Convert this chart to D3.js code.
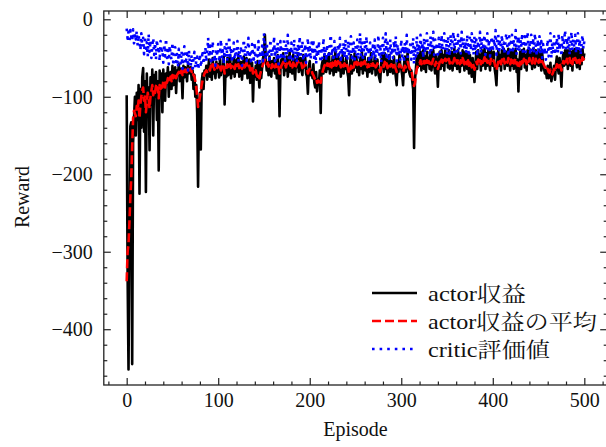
<!DOCTYPE html>
<html><head><meta charset="utf-8">
<script src="https://cdn.jsdelivr.net/npm/d3@7"></script>
<style>
html,body{margin:0;padding:0;background:#fff;}
svg{display:block;}
text{font-family:"Liberation Serif","Noto Serif CJK JP","Noto Sans CJK JP",serif;fill:#111;}
</style></head>
<body>
<svg id="chart" width="606" height="447"></svg>
<script>
const xTicks = [0, 100, 200, 300, 400, 500];
const xTickLabels = ["0", "100", "200", "300", "400", "500"];
const yTicks = [0, -100, -200, -300, -400];
const yTickLabels = ["0", "\u2212100", "\u2212200", "\u2212300", "\u2212400"];
const xLabel = "Episode";
const yLabel = "Reward";
const seriesNames = ["actor収益", "actor収益の平均", "critic評価値"];

const actorReward = [
-98,-330,-452,-280,-138,-133,-445,-160,-128,-100,
-150,-95,-130,-85,-225,-90,-140,-75,-63,-145,
-80,-223,-70,-120,-88,-169,-75,-110,-65,-150,
-72,-100,-68,-130,-80,-195,-66,-95,-70,-120,
-65,-88,-105,-70,-80,-62,-100,-75,-68,-90,
-60,-85,-70,-62,-95,-66,-72,-58,-80,-64,
-70,-102,-60,-75,-62,-68,-80,-58,-70,-65,
-62,-78,-66,-90,-72,-100,-85,-120,-216,-110,
-95,-168,-80,-70,-90,-66,-72,-60,-78,-64,
-52,-74,-60,-78,-50,-70,-64,-76,-55,-68,
-58,-75,-50,-72,-62,-68,-48,-110,-66,-74,
-50,-72,-60,-46,-76,-58,-70,-50,-74,-62,
-52,-68,-46,-74,-60,-55,-78,-62,-48,-70,
-58,-50,-76,-64,-52,-82,-68,-56,-106,-66,
-74,-60,-78,-54,-70,-88,-58,-76,-62,-50,
-44,-20,-52,-66,-56,-72,-48,-64,-74,-54,
-66,-50,-70,-56,-76,-46,-68,-125,-64,-52,
-62,-44,-72,-56,-66,-48,-74,-60,-42,-68,
-56,-70,-46,-64,-78,-52,-62,-44,-68,-58,
-50,-66,-72,-46,-62,-48,-70,-74,-96,-60,
-54,-72,-66,-76,-58,-82,-88,-68,-93,-78,
-84,-66,-121,-60,-54,-70,-46,-62,-68,-48,
-64,-44,-70,-56,-66,-48,-72,-58,-42,-68,
-56,-46,-66,-52,-74,-60,-46,-70,-56,-64,
-48,-68,-74,-98,-58,-46,-70,-56,-66,-44,
-62,-48,-68,-56,-72,-50,-64,-42,-70,-56,
-48,-66,-56,-74,-50,-68,-60,-44,-70,-56,
-64,-48,-72,-58,-52,-70,-76,-81,-58,-46,
-56,-68,-44,-64,-52,-72,-58,-46,-68,-54,
-62,-70,-48,-64,-74,-85,-56,-68,-46,-60,
-64,-72,-85,-58,-48,-68,-56,-42,-64,-70,
-74,-66,-80,-90,-166,-78,-64,-48,-62,-46,
-60,-42,-66,-52,-40,-64,-48,-68,-42,-58,
-50,-64,-40,-66,-52,-40,-60,-70,-46,-62,
-87,-52,-42,-64,-40,-60,-46,-66,-40,-56,
-44,-62,-40,-64,-50,-42,-66,-52,-38,-60,
-46,-64,-40,-56,-68,-44,-60,-40,-50,-66,
-42,-58,-64,-44,-70,-46,-60,-74,-50,-66,
-81,-58,-42,-64,-40,-56,-46,-66,-40,-60,
-48,-38,-64,-44,-60,-40,-56,-66,-40,-52,
-60,-42,-64,-72,-85,-52,-40,-60,-46,-66,
-40,-56,-38,-64,-48,-42,-60,-38,-52,-66,
-42,-60,-40,-64,-48,-38,-68,-52,-93,-56,
-42,-64,-40,-56,-38,-62,-46,-66,-40,-56,
-38,-58,-44,-64,-38,-50,-62,-40,-58,-44,
-60,-40,-50,-66,-44,-58,-64,-70,-66,-76,
-60,-76,-70,-56,-80,-72,-66,-60,-78,-58,
-48,-62,-70,-50,-66,-87,-56,-44,-60,-40,
-58,-40,-64,-46,-38,-60,-42,-66,-40,-56,
-38,-54,-62,-38,-48,-64,-40,-58,-38,-52,
-44];

const actorMean = [
-338,-300,-290,-262,-230,-205,-165,-128,-118,-122,
-125,-112,-118,-105,-128,-110,-100,-92,-88,-105,
-98,-120,-108,-95,-102,-115,-100,-92,-85,-98,
-90,-95,-86,-92,-88,-102,-85,-90,-82,-88,
-80,-84,-88,-78,-82,-76,-82,-78,-74,-80,
-72,-76,-74,-70,-76,-72,-70,-68,-72,-68,
-66,-72,-66,-68,-65,-66,-70,-64,-66,-65,
-64,-68,-66,-72,-74,-80,-88,-98,-113,-108,
-100,-92,-84,-78,-74,-70,-68,-66,-68,-65,
-63,-66,-60,-64,-58,-62,-65,-61,-58,-63,
-60,-65,-62,-66,-59,-63,-61,-70,-66,-62,
-58,-62,-64,-58,-63,-60,-57,-61,-64,-59,
-56,-60,-58,-63,-61,-57,-64,-60,-57,-62,
-59,-56,-62,-64,-60,-66,-63,-60,-70,-68,
-70,-66,-72,-74,-70,-76,-70,-66,-62,-58,
-55,-52,-54,-58,-56,-61,-57,-60,-63,-58,
-61,-57,-62,-58,-63,-59,-62,-70,-66,-60,
-58,-55,-60,-58,-62,-57,-61,-58,-55,-60,
-57,-62,-56,-60,-64,-60,-57,-54,-58,-56,
-55,-58,-63,-57,-61,-56,-62,-64,-70,-66,
-64,-67,-66,-70,-72,-75,-78,-76,-82,-79,
-81,-76,-82,-74,-68,-64,-60,-58,-62,-57,
-60,-55,-61,-57,-62,-56,-60,-58,-54,-60,
-57,-54,-60,-56,-62,-60,-55,-61,-57,-60,
-56,-60,-64,-70,-66,-60,-63,-58,-62,-56,
-60,-55,-59,-56,-62,-57,-60,-53,-58,-56,
-54,-58,-56,-62,-58,-61,-59,-55,-60,-57,
-60,-56,-62,-60,-57,-62,-65,-68,-63,-58,
-57,-61,-55,-60,-57,-63,-60,-56,-61,-58,
-59,-62,-57,-61,-64,-68,-63,-62,-58,-60,
-61,-64,-68,-64,-60,-62,-58,-55,-59,-63,
-65,-64,-72,-80,-86,-82,-72,-64,-60,-56,
-57,-53,-58,-55,-52,-57,-54,-58,-53,-56,
-54,-57,-52,-58,-55,-51,-56,-60,-55,-58,
-64,-60,-55,-58,-52,-56,-53,-57,-51,-54,
-52,-56,-51,-57,-54,-52,-57,-55,-50,-56,
-53,-57,-51,-54,-58,-53,-56,-50,-53,-58,
-52,-55,-58,-53,-60,-56,-58,-62,-57,-60,
-65,-60,-55,-58,-52,-56,-53,-58,-51,-56,
-53,-49,-56,-52,-56,-51,-55,-58,-51,-54,
-56,-53,-57,-62,-66,-60,-55,-58,-54,-58,
-52,-55,-51,-57,-53,-51,-56,-50,-54,-58,
-52,-56,-51,-57,-54,-50,-58,-56,-64,-60,
-55,-58,-52,-56,-51,-57,-53,-58,-51,-55,
-50,-55,-52,-57,-50,-53,-57,-51,-55,-52,
-56,-52,-54,-58,-54,-57,-59,-62,-63,-67,
-64,-68,-69,-65,-70,-71,-68,-64,-68,-63,
-58,-60,-62,-57,-61,-66,-60,-54,-57,-52,
-56,-51,-57,-53,-50,-56,-52,-58,-51,-55,
-50,-53,-56,-49,-52,-57,-51,-55,-49,-52,
-50];

const criticValue = [
-12,-25,-16,-30,-14,-22,-28,-13,-31,-18,
-26,-15,-34,-20,-29,-40,-18,-36,-24,-45,
-22,-38,-30,-48,-19,-42,-27,-50,-33,-24,
-46,-30,-52,-26,-40,-35,-54,-28,-44,-38,
-56,-32,-48,-25,-50,-40,-58,-34,-46,-52,
-30,-60,-42,-36,-55,-45,-62,-38,-50,-57,
-41,-64,-47,-35,-58,-52,-44,-66,-40,-55,
-60,-46,-68,-50,-42,-63,-54,-48,-65,-58,
-45,-62,-52,-40,-58,-48,-36,-55,-44,-24,
-50,-34,-58,-42,-28,-52,-46,-60,-38,-48,
-32,-55,-44,-26,-50,-40,-58,-36,-47,-30,
-54,-42,-22,-48,-36,-56,-44,-30,-52,-40,
-46,-28,-55,-38,-50,-34,-60,-42,-26,-48,
-36,-54,-44,-24,-50,-40,-58,-32,-46,-52,
-30,-56,-42,-48,-28,-60,-40,-50,-34,-54,
-18,-36,-52,-30,-46,-40,-56,-26,-48,-38,
-44,-22,-54,-36,-50,-30,-58,-42,-28,-52,
-38,-48,-24,-56,-34,-46,-20,-50,-40,-54,
-30,-44,-52,-26,-48,-36,-56,-32,-46,-22,
-50,-38,-28,-54,-42,-32,-56,-40,-24,-48,
-36,-52,-30,-46,-26,-54,-40,-58,-34,-48,
-28,-44,-56,-36,-50,-24,-46,-38,-54,-32,
-42,-50,-30,-20,-48,-36,-54,-28,-44,-40,
-52,-32,-46,-24,-56,-38,-44,-30,-50,-26,
-40,-54,-28,-48,-36,-22,-50,-42,-30,-56,
-34,-46,-26,-52,-38,-18,-48,-30,-54,-40,
-28,-50,-22,-44,-36,-56,-30,-46,-52,-34,
-48,-26,-54,-36,-42,-20,-50,-32,-56,-38,
-24,-46,-34,-18,-52,-30,-44,-54,-26,-48,
-36,-50,-28,-42,-22,-54,-32,-46,-38,-52,
-26,-48,-34,-56,-30,-44,-20,-50,-36,-46,
-28,-52,-40,-24,-58,-34,-48,-22,-46,-32,
-42,-20,-38,-30,-50,-24,-44,-34,-18,-40,
-28,-48,-22,-42,-32,-16,-46,-26,-40,-30,
-50,-24,-36,-44,-20,-40,-30,-18,-38,-26,
-46,-22,-34,-48,-20,-38,-28,-16,-44,-24,
-32,-46,-20,-38,-26,-44,-16,-34,-24,-40,
-28,-44,-20,-36,-48,-24,-40,-18,-32,-46,
-22,-38,-26,-48,-28,-34,-16,-44,-24,-40,
-30,-20,-46,-34,-18,-40,-26,-48,-30,-22,
-42,-24,-36,-14,-46,-28,-20,-40,-26,-38,
-20,-42,-30,-46,-24,-18,-36,-48,-22,-40,
-28,-20,-44,-26,-38,-14,-46,-30,-22,-42,
-24,-36,-18,-46,-28,-22,-42,-26,-16,-38,
-30,-46,-20,-40,-24,-44,-18,-34,-48,-26,
-40,-22,-44,-28,-50,-32,-46,-36,-52,-40,
-26,-48,-36,-18,-50,-30,-44,-22,-46,-34,
-24,-44,-18,-40,-30,-48,-20,-38,-28,-14,
-42,-24,-38,-20,-46,-30,-16,-40,-26,-36,
-20,-44,-30,-18,-40,-26,-46,-32,-20,-38,
-28];

const svg = d3.select("#chart");
const mLeft = 103.8, mRight = 607.2, mTop = 11, mBottom = 385;
const x = d3.scaleLinear().domain([-25, 525]).range([mLeft, mRight]);
const y = d3.scaleLinear().domain([-472, 10.7]).range([mBottom, mTop]);
const FS = 20;

svg.append("defs").append("clipPath").attr("id", "clip")
  .append("rect").attr("x", mLeft).attr("y", mTop).attr("width", mRight - mLeft).attr("height", mBottom - mTop);

const line = d3.line().x((d, i) => x(i)).y(d => y(d));
const plot = svg.append("g").attr("clip-path", "url(#clip)");

plot.append("path").datum(actorReward).attr("d", line)
  .attr("fill", "none").attr("stroke", "#000").attr("stroke-width", 2.6)
  .attr("stroke-linejoin", "round");
plot.append("path").datum(actorMean).attr("d", line)
  .attr("fill", "none").attr("stroke", "#ff0000").attr("stroke-width", 2.6)
  .attr("stroke-dasharray", "9,4").attr("stroke-linejoin", "round");
plot.append("path").datum(criticValue).attr("d", line)
  .attr("fill", "none").attr("stroke", "#0000ff").attr("stroke-width", 2.6)
  .attr("stroke-dasharray", "2.6,5").attr("stroke-linejoin", "round");

// axes
const xMinor = d3.range(-20, 521, 20).filter(v => v % 100 !== 0);
const yMinor = d3.range(-460, 1, 20).filter(v => v % 100 !== 0);
const axisColor = "#222";

function styleAxis(g) {
  g.select(".domain").remove();
  g.selectAll("line").attr("stroke", axisColor).attr("stroke-width", 1.2);
  g.selectAll("text").attr("font-size", FS).attr("fill", "#111")
    .attr("font-family", '"Liberation Serif", serif');
}

const xLabels = {}; xTicks.forEach((t, i) => xLabels[t] = xTickLabels[i]);
const yLabels = {}; yTicks.forEach((t, i) => yLabels[t] = yTickLabels[i]);

svg.append("g").attr("transform", `translate(0,${mBottom})`)
  .call(d3.axisBottom(x).tickValues(xTicks).tickSize(-7).tickPadding(8).tickFormat(d => xLabels[d]))
  .call(styleAxis);
svg.append("g").attr("transform", `translate(0,${mBottom})`)
  .call(d3.axisBottom(x).tickValues(xMinor).tickSize(-3.5).tickFormat(""))
  .call(styleAxis);
svg.append("g").attr("transform", `translate(0,${mTop})`)
  .call(d3.axisTop(x).tickValues(xTicks).tickSize(-7).tickFormat(""))
  .call(styleAxis);
svg.append("g").attr("transform", `translate(0,${mTop})`)
  .call(d3.axisTop(x).tickValues(xMinor).tickSize(-3.5).tickFormat(""))
  .call(styleAxis);
svg.append("g").attr("transform", `translate(${mLeft},0)`)
  .call(d3.axisLeft(y).tickValues(yTicks).tickSize(-7).tickPadding(11).tickFormat(d => yLabels[d]))
  .call(styleAxis);
svg.append("g").attr("transform", `translate(${mLeft},0)`)
  .call(d3.axisLeft(y).tickValues(yMinor).tickSize(-3.5).tickFormat(""))
  .call(styleAxis);
svg.append("g").attr("transform", `translate(${mRight},0)`)
  .call(d3.axisRight(y).tickValues(yTicks).tickSize(-7).tickFormat(""))
  .call(styleAxis);
svg.append("g").attr("transform", `translate(${mRight},0)`)
  .call(d3.axisRight(y).tickValues(yMinor).tickSize(-3.5).tickFormat(""))
  .call(styleAxis);

svg.append("rect").attr("x", mLeft).attr("y", mTop).attr("width", mRight - mLeft).attr("height", mBottom - mTop)
  .attr("fill", "none").attr("stroke", axisColor).attr("stroke-width", 1.3);

svg.append("text").attr("x", (x(0) + x(500)) / 2).attr("y", 436)
  .attr("text-anchor", "middle").attr("font-size", FS).text(xLabel);
svg.append("text").attr("transform", "translate(29,197) rotate(-90)")
  .attr("text-anchor", "middle").attr("font-size", FS).text(yLabel);

// legend
const legendStyles = [
  {color: "#000", dash: null, width: 98},
  {color: "#ff0000", dash: "9,4", width: 169},
  {color: "#0000ff", dash: "2.6,5", width: 122}
];
const lg = svg.append("g");
seriesNames.forEach((name, i) => {
  const cy = 293 + i * 28;
  const l = lg.append("line").attr("x1", 372).attr("x2", 417).attr("y1", cy).attr("y2", cy)
    .attr("stroke", legendStyles[i].color).attr("stroke-width", 2.6);
  if (legendStyles[i].dash) l.attr("stroke-dasharray", legendStyles[i].dash);
  lg.append("text").attr("x", 428).attr("y", cy).attr("dy", "0.36em")
    .attr("font-size", 21).attr("textLength", legendStyles[i].width)
    .attr("lengthAdjust", "spacingAndGlyphs").text(name);
});
</script>
</body></html>
